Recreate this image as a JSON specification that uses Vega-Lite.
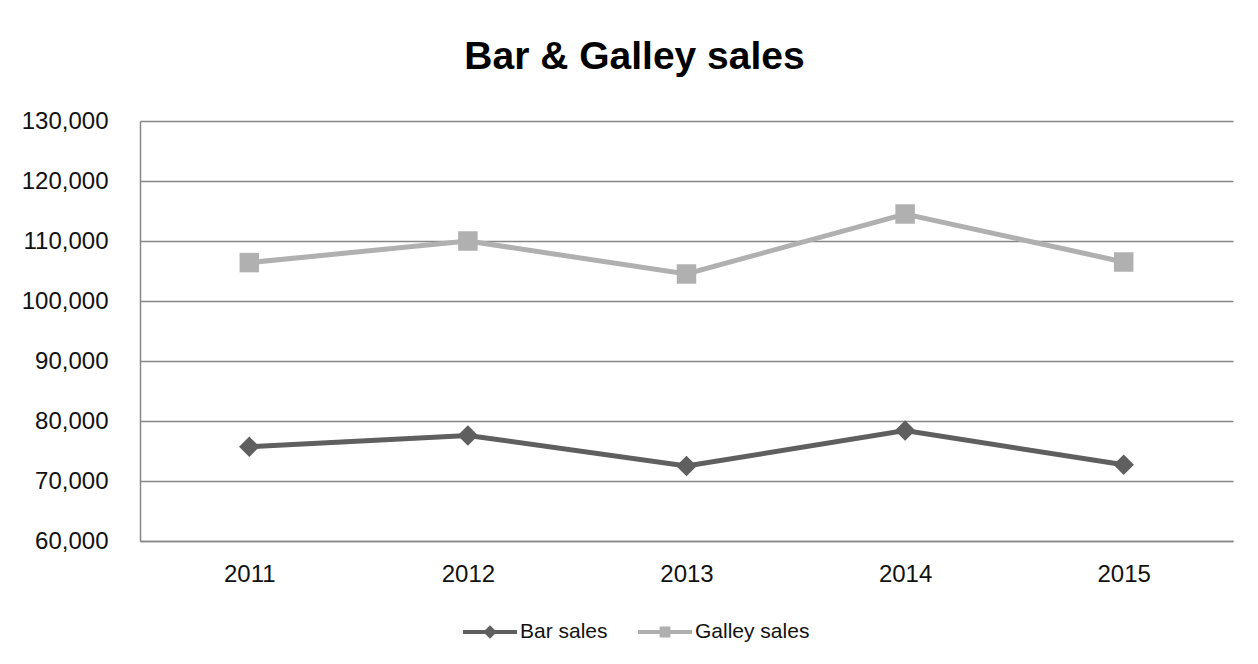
{
  "$schema": "https://vega.github.io/schema/vega-lite/v6.json",
  "autosize": {"type": "none"},
  "width": 1093,
  "height": 420,
  "padding": {"left": 140, "top": 121, "right": 25, "bottom": 123},
  "background": "white",
  "title": {
    "text": "Bar & Galley sales",
    "font": "Liberation Sans",
    "fontSize": 39,
    "fontWeight": "bold",
    "color": "#000000",
    "anchor": "middle",
    "frame": "group",
    "dx": -52,
    "offset": 32
  },
  "config": {
    "view": {"stroke": null},
    "axis": {"labelFont": "Liberation Sans", "labelColor": "#111111", "domainColor": "#868686", "gridColor": "#868686", "domainWidth": 1.5, "gridWidth": 1.3}
  },
  "data": {
    "values": [
      {"year": "2011", "series": "Bar sales", "sales": 75700},
      {"year": "2012", "series": "Bar sales", "sales": 77600},
      {"year": "2013", "series": "Bar sales", "sales": 72500},
      {"year": "2014", "series": "Bar sales", "sales": 78400},
      {"year": "2015", "series": "Bar sales", "sales": 72700},
      {"year": "2011", "series": "Galley sales", "sales": 106400},
      {"year": "2012", "series": "Galley sales", "sales": 110000},
      {"year": "2013", "series": "Galley sales", "sales": 104500},
      {"year": "2014", "series": "Galley sales", "sales": 114500},
      {"year": "2015", "series": "Galley sales", "sales": 106500}
    ]
  },
  "encoding": {
    "x": {
      "field": "year", "type": "ordinal",
      "scale": {"type": "point", "padding": 0.5},
      "axis": {"title": null, "labelAngle": 0, "labelFontSize": 24, "ticks": false, "labelPadding": 21, "grid": false}
    },
    "y": {
      "field": "sales", "type": "quantitative",
      "scale": {"domain": [60000, 130000], "nice": false, "zero": false},
      "axis": {"title": null, "values": [60000, 70000, 80000, 90000, 100000, 110000, 120000, 130000], "format": ",d", "labelFontSize": 24, "ticks": false, "labelPadding": 32, "grid": true}
    },
    "color": {
      "field": "series", "type": "nominal",
      "scale": {"domain": ["Bar sales", "Galley sales"], "range": ["#5f5f5f", "#b0b0b0"]},
      "legend": {
        "title": null,
        "orient": "none",
        "direction": "horizontal",
        "legendX": 323,
        "legendY": 484,
        "labelFont": "Liberation Sans",
        "labelFontSize": 21,
        "labelColor": "#111111",
        "labelOffset": 3,
        "columnPadding": 30,
        "symbolSize": 2916,
        "symbolType": "M-1,-0.07H-0.18L0,-0.25L0.18,-0.07H1V0.07H0.18L0,0.25L-0.18,0.07H-1Z",
        "encode": {
          "symbols": {
            "update": {
              "shape": {"signal": "datum.value === 'Bar sales' ? 'M-1,-0.07H-0.18L0,-0.25L0.18,-0.07H1V0.07H0.18L0,0.25L-0.18,0.07H-1Z' : 'M-1,-0.07H-0.2V-0.2H0.2V-0.07H1V0.07H0.2V0.2H-0.2V0.07H-1Z'"},
              "fill": {"signal": "datum.value === 'Bar sales' ? '#5f5f5f' : '#b0b0b0'"},
              "stroke": {"value": "transparent"},
              "strokeWidth": {"value": 0},
              "opacity": {"value": 1},
              "size": {"value": 2916}
            }
          }
        }
      }
    }
  },
  "layer": [
    {"mark": {"type": "line", "strokeWidth": 5}},
    {
      "transform": [{"filter": "datum.series === 'Bar sales'"}],
      "mark": {"type": "point", "filled": true, "opacity": 1, "shape": "diamond", "size": 420}
    },
    {
      "transform": [{"filter": "datum.series === 'Galley sales'"}],
      "mark": {"type": "point", "filled": true, "opacity": 1, "shape": "square", "size": 380}
    }
  ]
}
